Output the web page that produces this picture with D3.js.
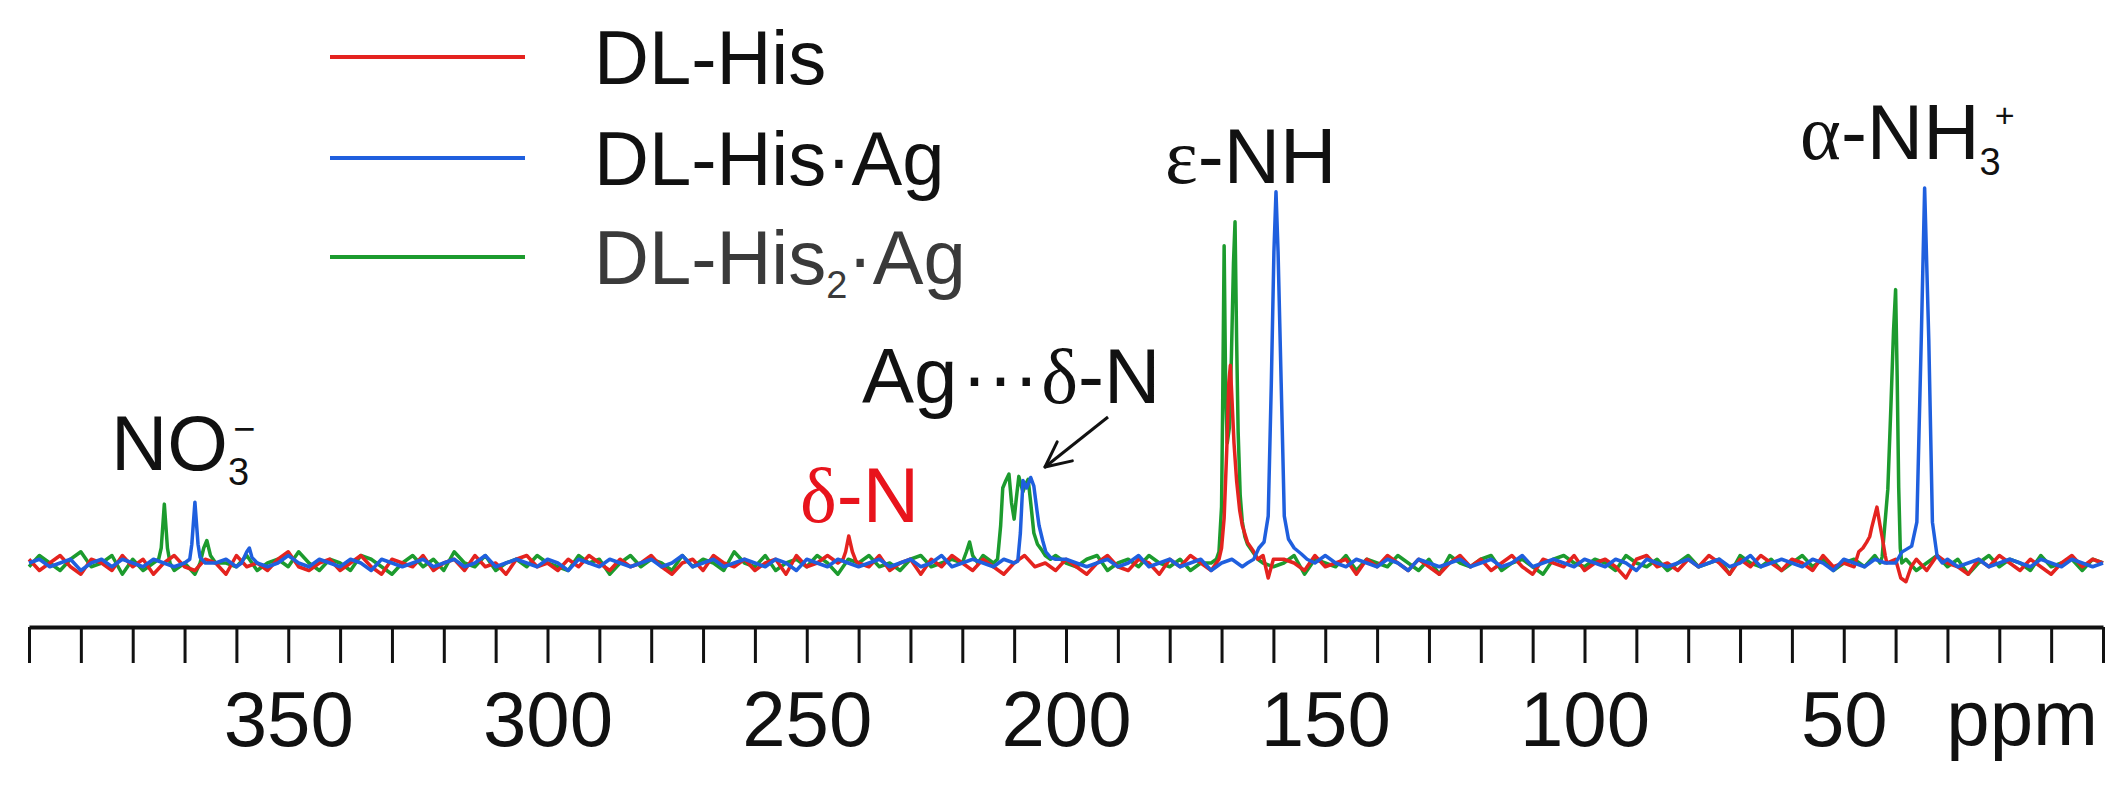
<!DOCTYPE html>
<html>
<head>
<meta charset="utf-8">
<script src="https://cdn.jsdelivr.net/npm/d3@7"></script>
<style>
  body { margin: 0; background: #fff; }
  text { font-family: Arial, "Liberation Sans", sans-serif; }
</style>
</head>
<body>
<svg id="chart" width="2122" height="789"></svg>
<script>
// ---- data (intensity in arbitrary units, 100 = tallest peak) ----
var seriesNames = ["DL-His", "DL-His·Ag", "DL-His2·Ag"];
var noiseStart = 400, noiseStep = 2;   // baseline samples run 400 -> 0 ppm every 2 ppm

var redNoise = [
  1,-2,0,2,-1,-3,1,0,-2,2, -1,1,-3,0,2,-1,-2,1,0,-3, 2,-1,0,-2,1,3,-1,-2,0,1,
  -2,0,2,-1,-3,1,0,-1,2,-2, 0,1,-2,2,-1,0,-3,1,2,-1, 0,-2,1,-1,2,0,-2,1,-1,0,
  2,-1,-3,0,1,-2,2,0,-1,1, -2,0,1,-3,2,-1,0,2,-2,1, 0,-1,2,-2,0,1,-3,1,-1,2,
  0,-2,1,-1,-3,0,2,-1,0,-2, 1,-1,-3,0,2,-1,-2,1,0,-3, 1,-1,2,0,-2,1,-1,0,2,-3,
  -1,1,0,-2,2,-1,0,1,-3,1, -1,2,0,-2,1,-1,-3,0,2,-1, 1,-2,0,2,-1,-3,1,0,-1,2,
  -2,0,1,-1,-4,1,2,-1,0,-2, 1,-1,2,0,-3,1,-1,2,0,-2, 1,0,-2,2,-1,0,1,-3,2,-1,
  0,-4,1,-2,2,0,-1,-3,1,-1, 2,0,-2,1,-1,-3,0,2,-1,1, 0
];
var blueNoise = [
  0,1,-1,0,1,-2,0,1,-1,1, 0,-1,1,0,-1,1,0,-2,0,1, -1,0,1,-1,0,2,0,-1,1,0,
  -1,1,0,-2,1,0,-1,0,1,-1, 0,1,-1,0,2,-1,0,1,0,-1, 1,0,-2,1,0,-1,1,0,-1,0,
  1,-1,0,2,-1,0,1,-1,0,1, 0,-1,1,0,-2,1,0,-1,1,0, -1,0,1,-1,0,1,-1,0,2,-1,
  0,1,0,-1,1,0,-2,1,0,-1, 1,0,-1,0,1,-1,0,2,-1,0, 1,-1,0,1,-2,0,1,-1,0,1,
  -1,0,1,-1,0,2,0,-1,1,0, -1,1,0,-2,1,0,-1,0,1,-1, 0,1,-1,0,2,-1,0,1,0,-1,
  1,0,-1,1,0,-2,1,0,-1,0, 1,-1,0,1,-1,0,2,-1,0,1, 0,-1,1,0,-2,1,0,-1,1,0,
  -1,0,1,-1,0,1,-1,0,1,-1, 0,1,0,-1,1,0,-1,1,0,-1, 0
];
var greenNoise = [
  -1,2,0,-2,1,3,-1,0,2,-3, 1,-2,0,2,-1,0,-3,1,2,0, -1,2,-2,0,1,-1,3,0,-2,1,
  0,-2,2,1,-1,-3,0,2,-1,1, -2,3,0,-1,2,-2,0,1,-1,2, 0,-1,-2,2,0,1,-3,0,2,-1,
  1,0,-2,2,-1,1,0,-2,3,0, -1,2,-2,0,1,-1,2,0,-3,1, 0,2,-1,0,-2,1,2,-1,0,1,
  -2,0,2,-1,1,-3,0,1,-1,2, 0,-1,1,2,-2,0,1,-1,2,0, -1,1,-2,0,2,-1,0,1,-2,3,
  -1,0,2,-3,1,0,-1,2,-2,1, 0,-1,2,0,-2,1,-3,2,0,-1, 1,2,-2,0,1,-1,-3,1,2,0,
  -1,1,0,-2,2,0,-1,1,-2,0, 2,-1,0,1,-3,2,0,-1,1,-2, 0,2,-1,1,-2,0,1,-1,2,0,
  -1,1,-2,0,2,-1,1,-3,0,2, -1,1,0,-2,2,-1,0,1,-2,1, 0
];

// peak regions: [ppm, intensity]
var redPeaks = [
  [[244,0],[243,1],[242.5,3],[241.9,7.2],[241.2,3],[240.5,0.5],[240,0]],
  [[171,0],[170.5,1],[170,4],[169.5,12],[169,30],[168.6,48],[168.3,52.7],[168,44],[167.6,32],
   [167.1,22],[166.5,14],[166,10],[165,5.5],[164,3.5],[163,1],[162,2],[161,-4],[160,1]],
  [[48,-1],[47.1,3],[46.3,4],[45.6,5.5],[45,7],[44.6,9.5],[43.6,14.9],[43,10],[42.6,7],
   [42,2],[41.7,0],[40,1],[39,-4],[38,-5],[37,-1]]
];
var bluePeaks = [
  [[370,0],[369,1],[368.6,5],[368,16.2],[367.4,5],[367,1.5],[366,0]],
  [[359,0],[358,3],[357.5,4],[357,1.5],[356,0]],
  [[210,0],[209.3,0.5],[208.8,8],[208.3,22],[207.6,20],[206.8,22.8],[206.2,20.5],[205.6,14],
   [205.2,10],[204.5,6],[203.9,3],[203,1.5],[202,1]],
  [[165,0],[163.8,1],[162.8,4],[161.8,5.6],[161,12.5],[160.4,48],[159.9,83],[159.5,99],
   [159.1,83],[158.5,48],[157.9,12.5],[157.1,6.4],[156,4],[154.6,2.4],[153.5,1]],
  [[40,0],[38.8,2.9],[36.9,4.5],[35.9,10.9],[35.05,59.6],[34.4,100],[33.6,59.6],[32.9,10.9],
   [32,1.9],[31,0]]
];
var greenPeaks = [
  [[376,0],[375,1],[374.5,4],[373.9,15.7],[373.3,4],[372.8,0],[372,-2]],
  [[367,0],[366.3,4],[365.7,6],[365,2],[364,0]],
  [[220,0],[219.2,3],[218.6,5.6],[218,2],[217,0]],
  [[214,0],[213.2,1],[212.6,10],[212.2,20],[211.6,22],[211,23.7],[210.5,16],[210,11.7],
   [209.6,17],[209.1,23.1],[208.7,21],[208.3,19],[207.8,21],[207.3,22.3],[206.8,16],
   [206.2,8],[205.5,5],[204.8,3.7],[204,2],[203,1]],
  [[172,0],[171,1],[170.5,3],[170,15],[169.8,40],[169.5,84.6],[169.2,45],[168.9,32],
   [168.5,36],[168.1,55],[167.7,80],[167.4,91],[167.1,60],[166.8,35],[166.4,18],[166,11],
   [165.5,7],[165,5],[164,3],[163,1],[162,0]],
  [[43,0],[42.6,1.6],[42.1,9.8],[41.5,19.7],[40.9,42],[40.4,62],[40,72.9],[39.7,50],
   [39.4,20],[39.1,4],[38.8,0]]
];
var labelTicks = [350, 300, 250, 200, 150, 100, 50];
var colors = ["#e4231f", "#1f5fde", "#1c9b2e"];

// ---- build series ----
function buildSeries(noise, peaks) {
  var pts = noise.map(function(v, i) { return [noiseStart - i * noiseStep, v]; });
  peaks.forEach(function(g) {
    var hi = d3.max(g, function(d) { return d[0]; }), lo = d3.min(g, function(d) { return d[0]; });
    pts = pts.filter(function(d) { return d[0] > hi || d[0] < lo; });
    pts = pts.concat(g);
  });
  return pts.sort(function(a, b) { return b[0] - a[0]; });
}
var red = buildSeries(redNoise, redPeaks);
var blue = buildSeries(blueNoise, bluePeaks);
var green = buildSeries(greenNoise, greenPeaks);

var svg = d3.select("#chart");
var x = d3.scaleLinear().domain([400, 0]).range([29, 2103]);
var y = d3.scaleLinear().domain([0, 100]).range([563, 188]);

var line = d3.line().x(function(d) { return x(d[0]); }).y(function(d) { return y(d[1]); });

// green under red under blue
[[green, 2], [red, 0], [blue, 1]].forEach(function(s) {
  svg.append("path").datum(s[0])
    .attr("d", line)
    .attr("fill", "none")
    .attr("stroke", colors[s[1]])
    .attr("stroke-width", 3.5)
    .attr("stroke-linejoin", "round");
});

// axis
var axis = d3.axisBottom(x)
  .tickValues(d3.range(0, 401, 10))
  .tickSize(36)
  .tickSizeOuter(0)
  .tickPadding(28)
  .tickFormat(function(d) { return labelTicks.indexOf(d) >= 0 ? d : ""; });
var ax = svg.append("g").attr("transform", "translate(0,627)").call(axis);
ax.select(".domain").attr("stroke", "#111").attr("stroke-width", 4);
ax.selectAll(".tick line").attr("stroke", "#111").attr("stroke-width", 3);
ax.selectAll(".tick text").attr("fill", "#111").style("font-size", "78px")
  .style("font-family", "Arial, 'Liberation Sans', sans-serif");
svg.append("text").attr("x", 2098).attr("y", 745).attr("text-anchor", "end")
  .style("font-size", "78px").attr("fill", "#111").text("ppm");

// legend
var legY = [57, 158, 257];
seriesNames.forEach(function(name, i) {
  svg.append("line").attr("x1", 330).attr("x2", 525).attr("y1", legY[i]).attr("y2", legY[i])
    .attr("stroke", colors[i]).attr("stroke-width", 4);
  var t = svg.append("text").attr("x", 594).attr("y", legY[i] + 27)
    .style("font-size", "76px").attr("fill", i == 2 ? "#3a3a3a" : "#111");
  if (i == 2) {
    t.append("tspan").text("DL-His");
    t.append("tspan").attr("dy", 14).style("font-size", "38px").text("2");
    t.append("tspan").attr("dy", -14).text("·Ag");
  } else {
    t.text(name);
  }
});

// annotations
var greek = "'Liberation Serif', 'DejaVu Serif', serif";
var no3 = svg.append("text").attr("x", 111).attr("y", 470).style("font-size", "78px").attr("fill", "#111");
no3.append("tspan").text("NO");
no3.append("tspan").attr("dy", 15).style("font-size", "38px").text("3");
no3.append("tspan").attr("dx", -16).attr("dy", -43).style("font-size", "38px").text("−");

var dN = svg.append("text").attr("x", 800).attr("y", 522).style("font-size", "78px").attr("fill", "#e8141c");
dN.append("tspan").style("font-family", greek).text("δ");
dN.append("tspan").text("-N");

var agN = svg.append("text").attr("x", 862).attr("y", 403).style("font-size", "78px").attr("fill", "#111");
agN.append("tspan").text("Ag");
agN.append("tspan").attr("dx", 4).text("···");
agN.append("tspan").attr("dx", 2).style("font-family", greek).text("δ");
agN.append("tspan").text("-N");

var eNH = svg.append("text").attr("x", 1165).attr("y", 183).style("font-size", "78px").attr("fill", "#111");
eNH.append("tspan").style("font-family", greek).text("ε");
eNH.append("tspan").text("-NH");

var aNH = svg.append("text").attr("x", 1800).attr("y", 159).style("font-size", "78px").attr("fill", "#111");
aNH.append("tspan").style("font-family", greek).text("α");
aNH.append("tspan").text("-NH");
aNH.append("tspan").attr("dy", 16).style("font-size", "38px").text("3");
aNH.append("tspan").attr("dx", -6).attr("dy", -48).style("font-size", "34px").text("+");

// arrow to the Ag...δ-N peaks
var a0 = [1108, 417], a1 = [1045, 467];
var ang = Math.atan2(a1[1] - a0[1], a1[0] - a0[0]);
svg.append("line").attr("x1", a0[0]).attr("y1", a0[1]).attr("x2", a1[0]).attr("y2", a1[1])
  .attr("stroke", "#111").attr("stroke-width", 3);
[-0.45, 0.45].forEach(function(da) {
  svg.append("line").attr("x1", a1[0]).attr("y1", a1[1])
    .attr("x2", a1[0] - 28 * Math.cos(ang + da)).attr("y2", a1[1] - 28 * Math.sin(ang + da))
    .attr("stroke", "#111").attr("stroke-width", 3).attr("stroke-linecap", "round");
});
</script>
</body>
</html>
